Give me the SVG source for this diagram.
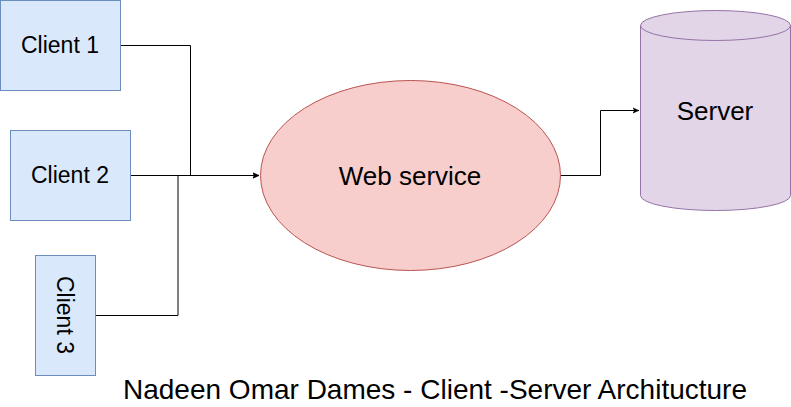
<svg xmlns="http://www.w3.org/2000/svg" width="791" height="407" viewBox="0 0 791 407">
<defs>
<style>
.client{fill:#dae8fc;stroke:#6c8ebf;stroke-width:1}
.lbl{font-family:"Liberation Sans",Arial,sans-serif;fill:#000;text-anchor:middle}
.edge{fill:none;stroke:#000;stroke-width:1}
</style>
<marker id="arr" viewBox="0 0 10 10" refX="9" refY="5" markerWidth="7" markerHeight="7" orient="auto" markerUnits="userSpaceOnUse">
<path d="M0,1 L9,5 L0,9 L2.5,5 Z" fill="#000" stroke="#000" stroke-width="0.5"/>
</marker>
</defs>
<rect width="791" height="407" fill="#fff"/>
<g id="connectors">
<path class="edge" d="M120.5,45.5 H190.5 V175.5 H259" marker-end="url(#arr)"/>
<path class="edge" d="M130.5,175.5 H259" marker-end="url(#arr)"/>
<path class="edge" d="M95.5,315.5 H178 V175.5"/>
<path class="edge" d="M560.5,175.5 H600.5 V110.5 H639" marker-end="url(#arr)"/>
</g>
<g id="client1">
<rect class="client" x="0.5" y="0.5" width="120" height="90"/>
<text class="lbl" x="60" y="53" font-size="23">Client 1</text>
</g>
<g id="client2">
<rect class="client" x="10.5" y="130.5" width="120" height="90"/>
<text class="lbl" x="70" y="183" font-size="23">Client 2</text>
</g>
<g id="client3">
<rect class="client" x="35.5" y="255.5" width="60" height="120"/>
<text class="lbl" x="65" y="315" font-size="23" transform="rotate(90 65 315)" dy="8">Client 3</text>
</g>
<g id="webservice">
<ellipse cx="410.5" cy="175.5" rx="150" ry="95" fill="#f8cecc" stroke="#b85450"/>
<text class="lbl" x="410" y="185" font-size="26">Web service</text>
</g>
<g id="server">
<path d="M640.5,25.5 A75,15 0 0 1 790.5,25.5 V195.5 A75,15 0 0 1 640.5,195.5 Z" fill="#e1d5e7" stroke="#9673a6"/>
<path d="M640.5,25.5 A75,15 0 0 0 790.5,25.5" fill="none" stroke="#9673a6"/>
<text class="lbl" x="715" y="120" font-size="26">Server</text>
</g>
<g id="title">
<text class="lbl" x="435" y="399" font-size="28">Nadeen Omar Dames - Client -Server Architucture</text>
</g>
</svg>
